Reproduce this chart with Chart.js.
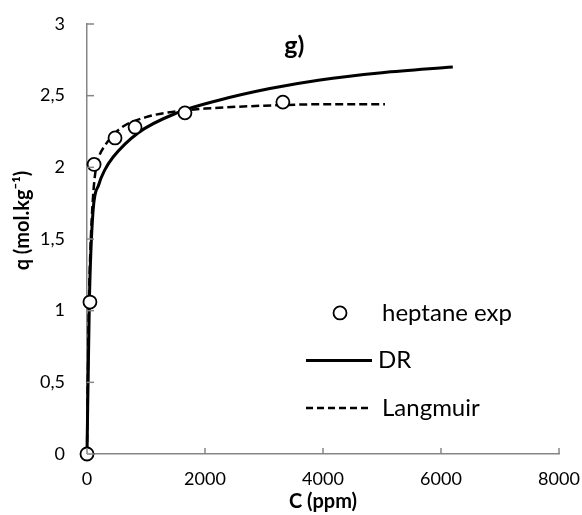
<!DOCTYPE html>
<html>
<head>
<meta charset="utf-8">
<script src="https://cdn.jsdelivr.net/npm/chart.js@4.4.1/dist/chart.umd.min.js"></script>
<style>
html,body{margin:0;padding:0;background:#fff;}
#wrap{width:582px;height:515px;}
</style>
</head>
<body>
<div id="wrap"><canvas id="c" width="582" height="515"></canvas></div>
<script>
// experimental points
const expC = [0, 50, 120, 475, 815, 1660, 3320];
const expQ = [0, 1.06, 2.02, 2.205, 2.28, 2.38, 2.455];
// DR fit curve
const drC = [0, 40, 100, 200, 300, 440, 865, 1525, 2250, 3100, 3950, 5000, 6200];
const drQ = [0, 1.06, 1.68, 1.88, 1.98, 2.07, 2.24, 2.38, 2.47, 2.55, 2.61, 2.66, 2.70];
// Langmuir fit curve
const lgC = [0, 30, 60, 100, 140, 200, 300, 560, 1000, 1500, 2000, 3000, 4000, 5050];
const lgQ = [0, 1.0, 1.45, 1.78, 1.96, 2.07, 2.15, 2.27, 2.35, 2.39, 2.41, 2.43, 2.44, 2.44];
// axis ticks
const xTicks = [0, 2000, 4000, 6000, 8000];
const yTicks = [0, 0.5, 1, 1.5, 2, 2.5, 3];
const legendLabels = ['heptane exp', 'DR', 'Langmuir'];
const titleText = 'g)';
const xTitle = 'C (ppm)';
const yTitle = 'q (mol.kg\u207B\u00B9)';

const toXY = (xs, ys) => xs.map((x, i) => ({x: x, y: ys[i]}));
const FONT = 'Lato';
const AXIS = '#868686';

const insideTicks = {
  id: 'insideTicks',
  afterDraw(chart) {
    const ctx = chart.ctx, a = chart.chartArea;
    const xs = chart.scales.x, ys = chart.scales.y;
    ctx.save();
    ctx.strokeStyle = AXIS; ctx.lineWidth = 1.5;
    xTicks.forEach(v => {
      const px = xs.getPixelForValue(v);
      ctx.beginPath(); ctx.moveTo(px, a.bottom); ctx.lineTo(px, a.bottom - 6); ctx.stroke();
    });
    yTicks.forEach(v => {
      const py = ys.getPixelForValue(v);
      ctx.beginPath(); ctx.moveTo(a.left, py); ctx.lineTo(a.left + 7, py); ctx.stroke();
    });
    ctx.restore();
  }
};

const extras = {
  id: 'extras',
  afterDraw(chart) {
    const ctx = chart.ctx, a = chart.chartArea;
    const W = a.right - a.left, H = a.bottom - a.top;
    ctx.save();
    ctx.fillStyle = '#000';
    // panel title
    ctx.font = 'bold 25px ' + FONT;
    ctx.textAlign = 'center'; ctx.textBaseline = 'middle';
    ctx.fillText(titleText, a.left + W * 0.439, a.top + 22);
    // y axis title
    ctx.save();
    ctx.translate(23, a.top + H * 0.457);
    ctx.rotate(-Math.PI / 2);
    ctx.font = 'bold 20px ' + FONT;
    ctx.fillText(yTitle, 0, 0);
    ctx.restore();
    // legend
    const ds = chart.data.datasets;
    const lx = a.left + W * 0.464;
    const ly0 = a.top + H * 0.672;
    const dy = 47.5;
    ctx.font = '24px ' + FONT;
    ctx.textAlign = 'left';
    ctx.beginPath();
    ctx.arc(lx + 34, ly0, 6.5, 0, Math.PI * 2);
    ctx.fillStyle = '#fff'; ctx.fill();
    ctx.lineWidth = 1.8; ctx.strokeStyle = '#000'; ctx.stroke();
    ctx.fillStyle = '#000';
    ctx.fillText(legendLabels[0], lx + 76, ly0);
    ctx.beginPath(); ctx.setLineDash([]);
    ctx.lineWidth = ds[1].borderWidth; ctx.moveTo(lx, ly0 + dy); ctx.lineTo(lx + 66, ly0 + dy); ctx.stroke();
    ctx.fillText(legendLabels[1], lx + 72, ly0 + dy);
    ctx.beginPath(); ctx.setLineDash([7, 4]);
    ctx.lineWidth = ds[2].borderWidth; ctx.moveTo(lx, ly0 + 2 * dy); ctx.lineTo(lx + 66, ly0 + 2 * dy); ctx.stroke();
    ctx.setLineDash([]);
    ctx.fillText(legendLabels[2], lx + 76, ly0 + 2 * dy);
    ctx.restore();
  }
};

new Chart(document.getElementById('c'), {
  type: 'scatter',
  data: {
    datasets: [
      {
        label: legendLabels[0], data: toXY(expC, expQ), showLine: false,
        pointStyle: 'circle', pointRadius: 6.5, pointBorderWidth: 1.8,
        pointBackgroundColor: '#fff', pointBorderColor: '#000', clip: false
      },
      {
        label: legendLabels[1], data: toXY(drC, drQ), showLine: true,
        borderColor: '#000', borderWidth: 3, pointRadius: 0,
        cubicInterpolationMode: 'monotone', clip: false
      },
      {
        label: legendLabels[2], data: toXY(lgC, lgQ), showLine: true,
        borderColor: '#000', borderWidth: 2.5, borderDash: [8, 4], pointRadius: 0,
        cubicInterpolationMode: 'monotone', clip: false
      }
    ]
  },
  options: {
    responsive: false, animation: false,
    layout: { padding: { left: 0, right: 23, top: 24, bottom: 0 } },
    plugins: { legend: { display: false }, tooltip: { enabled: false }, title: { display: false } },
    scales: {
      x: {
        type: 'linear', min: 0, max: 8000,
        afterBuildTicks: s => { s.ticks = xTicks.map(v => ({value: v})); },
        afterFit: s => { s.height = 61; s.paddingLeft = 0; s.paddingRight = 0; },
        grid: { display: false, drawTicks: false },
        border: { display: true, color: AXIS, width: 1.5 },
        ticks: { color: '#000', font: { family: FONT, size: 18 }, padding: 14, maxRotation: 0,
                 callback: v => String(v) },
        title: { display: true, text: xTitle, color: '#000', font: { family: FONT, size: 20, weight: 'bold' }, padding: { top: 0, bottom: 1 } }
      },
      y: {
        type: 'linear', min: 0, max: 3,
        afterBuildTicks: s => { s.ticks = yTicks.map(v => ({value: v})); },
        afterFit: s => { s.width = 87; s.paddingTop = 0; s.paddingBottom = 0; },
        grid: { display: false, drawTicks: false },
        border: { display: true, color: AXIS, width: 1.5 },
        ticks: { color: '#000', font: { family: FONT, size: 18 }, padding: 22,
                 callback: v => String(v).replace('.', ',') },
        title: { display: false }
      }
    }
  },
  plugins: [insideTicks, extras]
});
</script>
</body>
</html>
